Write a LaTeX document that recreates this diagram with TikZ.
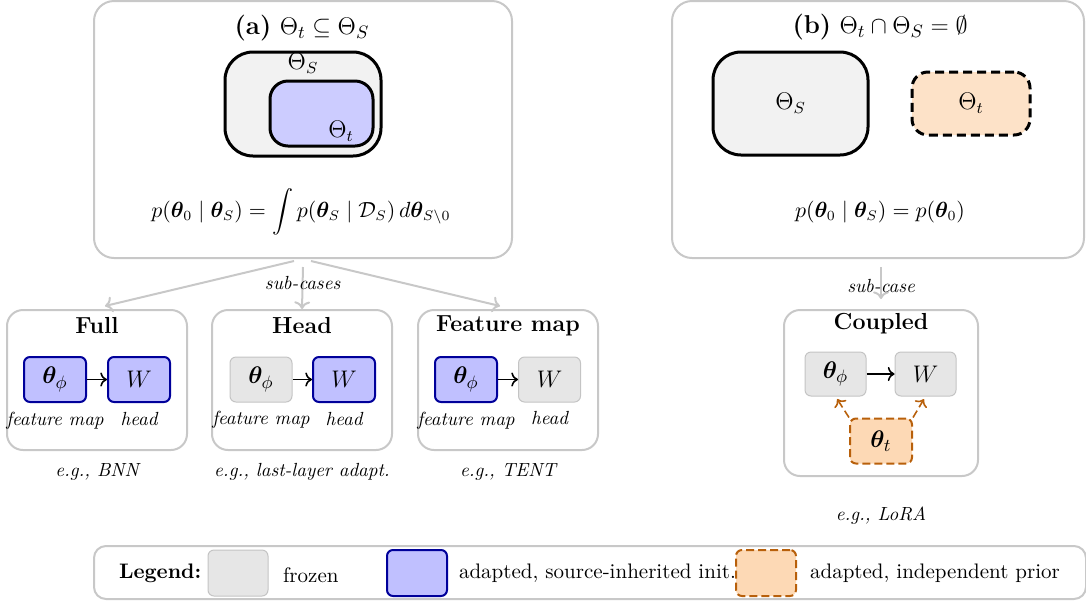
\documentclass[tikz,border=0pt]{standalone}
\usepackage{amsmath,amssymb,bm}
\usetikzlibrary{arrows.meta}
\definecolor{panelline}{HTML}{C8C8C8}
\definecolor{frozenfill}{HTML}{E6E6E6}
\definecolor{frozenline}{HTML}{C4C4C4}
\definecolor{adaptfill}{HTML}{C0C0FF}
\definecolor{adaptline}{HTML}{00009A}
\definecolor{indepfill}{HTML}{FDD9B5}
\definecolor{indepline}{HTML}{B8600B}
\definecolor{setfill}{HTML}{F2F2F2}
\definecolor{subsetfill}{HTML}{CCCCFF}
\definecolor{priorfill}{HTML}{FDE2C8}
\newcommand{\fsBody}{\fontsize{10.5}{12.6}\selectfont}
\newcommand{\fsSmall}{\fontsize{9.5}{11.4}\selectfont}
\newcommand{\fsTitle}{\fontsize{12.9}{15.5}\selectfont}
\newcommand{\fsCase}{\fontsize{11.6}{14}\selectfont}
\newcommand{\fsSet}{\fontsize{11.5}{13.8}\selectfont}
\newcommand{\fsParam}{\fontsize{12.6}{15}\selectfont}
\tikzset{
  panel/.style={draw=panelline, line width=1pt, rounded corners=10pt, fill=white},
  casebox/.style={draw=panelline, line width=1pt, rounded corners=8pt, minimum width=90pt, minimum height=70pt},
  setbox/.style={draw=black, line width=1.5pt, rounded corners=14pt, font=\fsSet},
  frozen/.style={draw=frozenline, fill=frozenfill, line width=0.5pt, rounded corners=3pt, minimum width=31pt, minimum height=22.5pt, font=\fsParam},
  adapted/.style={draw=adaptline, fill=adaptfill, line width=1pt, rounded corners=3pt, minimum width=31pt, minimum height=22.5pt, font=\fsParam},
  indep/.style={draw=indepline, fill=indepfill, line width=1pt, dash pattern=on 4pt off 2pt, rounded corners=3pt, minimum width=31pt, minimum height=22.5pt, font=\fsParam},
  flow/.style={->, line width=0.8pt},
  subcase/.style={->, draw=panelline, line width=1pt},
  lora/.style={->, draw=indepline, line width=0.8pt, dash pattern=on 4pt off 2pt, shorten >=1.5pt},
  casetitle/.style={font=\fsCase\bfseries},
  paneltitle/.style={font=\fsTitle},
  formula/.style={font=\fsBody},
  role/.style={font=\fsSmall\itshape},
  example/.style={font=\fsSmall\itshape},
  legendtext/.style={font=\fsBody, anchor=west},
}
\begin{document}
\begin{tikzpicture}[x=0.5pt, y=-0.5pt]
\useasboundingbox (0,0) rectangle (1086,601);

% ---------- panel (a): nested parameter sets ----------
\node[panel, minimum width=209pt, minimum height=128.5pt] (pa) at (303,129.5) {};
\node[paneltitle] (ta) at (302,28) {\textbf{(a)} $\Theta_t \subseteq \Theta_S$};
\node[setbox, fill=setfill, minimum width=78pt, minimum height=52pt] (sa) at (303,104) {};
\node[setbox, fill=subsetfill, rounded corners=9pt, minimum width=51.5pt, minimum height=32.5pt] (ia) at (321.5,113.5) {};
\node[font=\fsSet] (lsa) at (303,63) {$\Theta_S$};
\node[font=\fsSet] (lia) at (341,131) {$\Theta_t$};
\node[formula] (fa) at (301,212) {$p(\bm{\theta}_0 \mid \bm{\theta}_S) = \displaystyle\int p(\bm{\theta}_S \mid \mathcal{D}_S)\, d\bm{\theta}_{S\setminus 0}$};

% ---------- panel (b): disjoint parameter sets ----------
\node[panel, minimum width=206pt, minimum height=128.5pt] (pb) at (878,129.5) {};
\node[paneltitle] (tb) at (880,27) {\textbf{(b)} $\Theta_t \cap \Theta_S = \emptyset$};
\node[setbox, fill=setfill, minimum width=77.5pt, minimum height=51.5pt] (sb) at (790.5,103.5) {$\Theta_S$};
\node[setbox, fill=priorfill, dash pattern=on 4.5pt off 2.5pt, rounded corners=8pt, minimum width=59pt, minimum height=31.5pt] (ib) at (971,103.5) {$\Theta_t$};
\node[formula] (fb) at (880,212) {$p(\bm{\theta}_0 \mid \bm{\theta}_S) = p(\bm{\theta}_0)$};

% ---------- sub-cases of (a) ----------
\node[casebox] (full) at (97,380) {};
\node[casebox] (head) at (302,380) {};
\node[casebox] (fmap) at (508,380) {};
\node[casetitle] at (97,326) {Full};
\node[casetitle] at (302,326) {Head};
\node[casetitle] at (508,326) {Feature map};

\node[adapted] (f1) at (55,379.5) {$\bm{\theta}_\phi$};
\node[adapted] (f2) at (139,379.5) {$W$};
\node[frozen]  (h1) at (261,379.5) {$\bm{\theta}_\phi$};
\node[adapted] (h2) at (344,379.5) {$W$};
\node[adapted] (m1) at (466,379.5) {$\bm{\theta}_\phi$};
\node[frozen]  (m2) at (549.5,379.5) {$W$};
\draw[flow] (f1) -- (f2);
\draw[flow] (h1) -- (h2);
\draw[flow] (m1) -- (m2);

\foreach \a/\b in {f1/f2, h1/h2, m1/m2}{
  \node[role, anchor=north, yshift=-1pt] at (\a.south) {feature map};
  \node[role, anchor=north, yshift=-1pt] at (\b.south) {head};
}

\node[example] (ea) at (97,472) {e.g., BNN};
\node[example] (eb) at (302,472) {e.g., last-layer adapt.};
\node[example] (ec) at (508,472) {e.g., TENT};

\draw[subcase] ([xshift=-4.5pt,yshift=-1pt]pa.south) -- ([xshift=4pt,yshift=1.5pt]full.north);
\draw[subcase] ([yshift=-4pt]pa.south) -- node[role, pos=0.38] {sub-cases} (head.north);
\draw[subcase] ([xshift=4pt,yshift=-1pt]pa.south) -- ([xshift=-4pt,yshift=1.5pt]fmap.north);

% ---------- sub-case of (b) ----------
\node[casebox, minimum width=97pt, minimum height=83pt] (coup) at (881,393) {};
\node[casetitle] at (881,324) {Coupled};
\node[frozen, minimum width=30.5pt, minimum height=22pt] (c1) at (835.5,374) {$\bm{\theta}_\phi$};
\node[frozen, minimum width=30.5pt, minimum height=22pt] (c2) at (925.5,374) {$W$};
\node[indep] (c3) at (881,441) {$\bm{\theta}_t$};
\draw[flow] (c1) -- (c2);
\draw[lora] (c3.north west) -- (c1.south);
\draw[lora] (c3.north east) -- (c2.south);
\coordinate (bsrc) at ([yshift=-4pt]coup.north |- pb.south);
\draw[subcase, shorten >=5pt] (bsrc) -- node[role, pos=0.45] {sub-case} (coup.north);
\node[example] (ed) at (881,516) {e.g., LoRA};

% ---------- legend ----------
\node[panel, rounded corners=6pt, minimum width=496pt, minimum height=26.5pt] (leg) at (590,572.5) {};
\node[frozen, minimum width=30pt, minimum height=23pt] (k1) at (238,573) {};
\node[adapted, minimum width=30pt, minimum height=23pt] (k2) at (417,573) {};
\node[indep, minimum width=30pt, minimum height=23pt] (k3) at (766,573) {};
\node[legendtext, font=\fsBody\bfseries] (lt) at (112,573) {Legend:};
\node[legendtext] (l1) at (276,575) {frozen};
\node[legendtext] (l2) at (452,573) {adapted, source-inherited init.};
\node[legendtext] (l3) at (803,573) {adapted, independent prior};
\end{tikzpicture}
\end{document}
